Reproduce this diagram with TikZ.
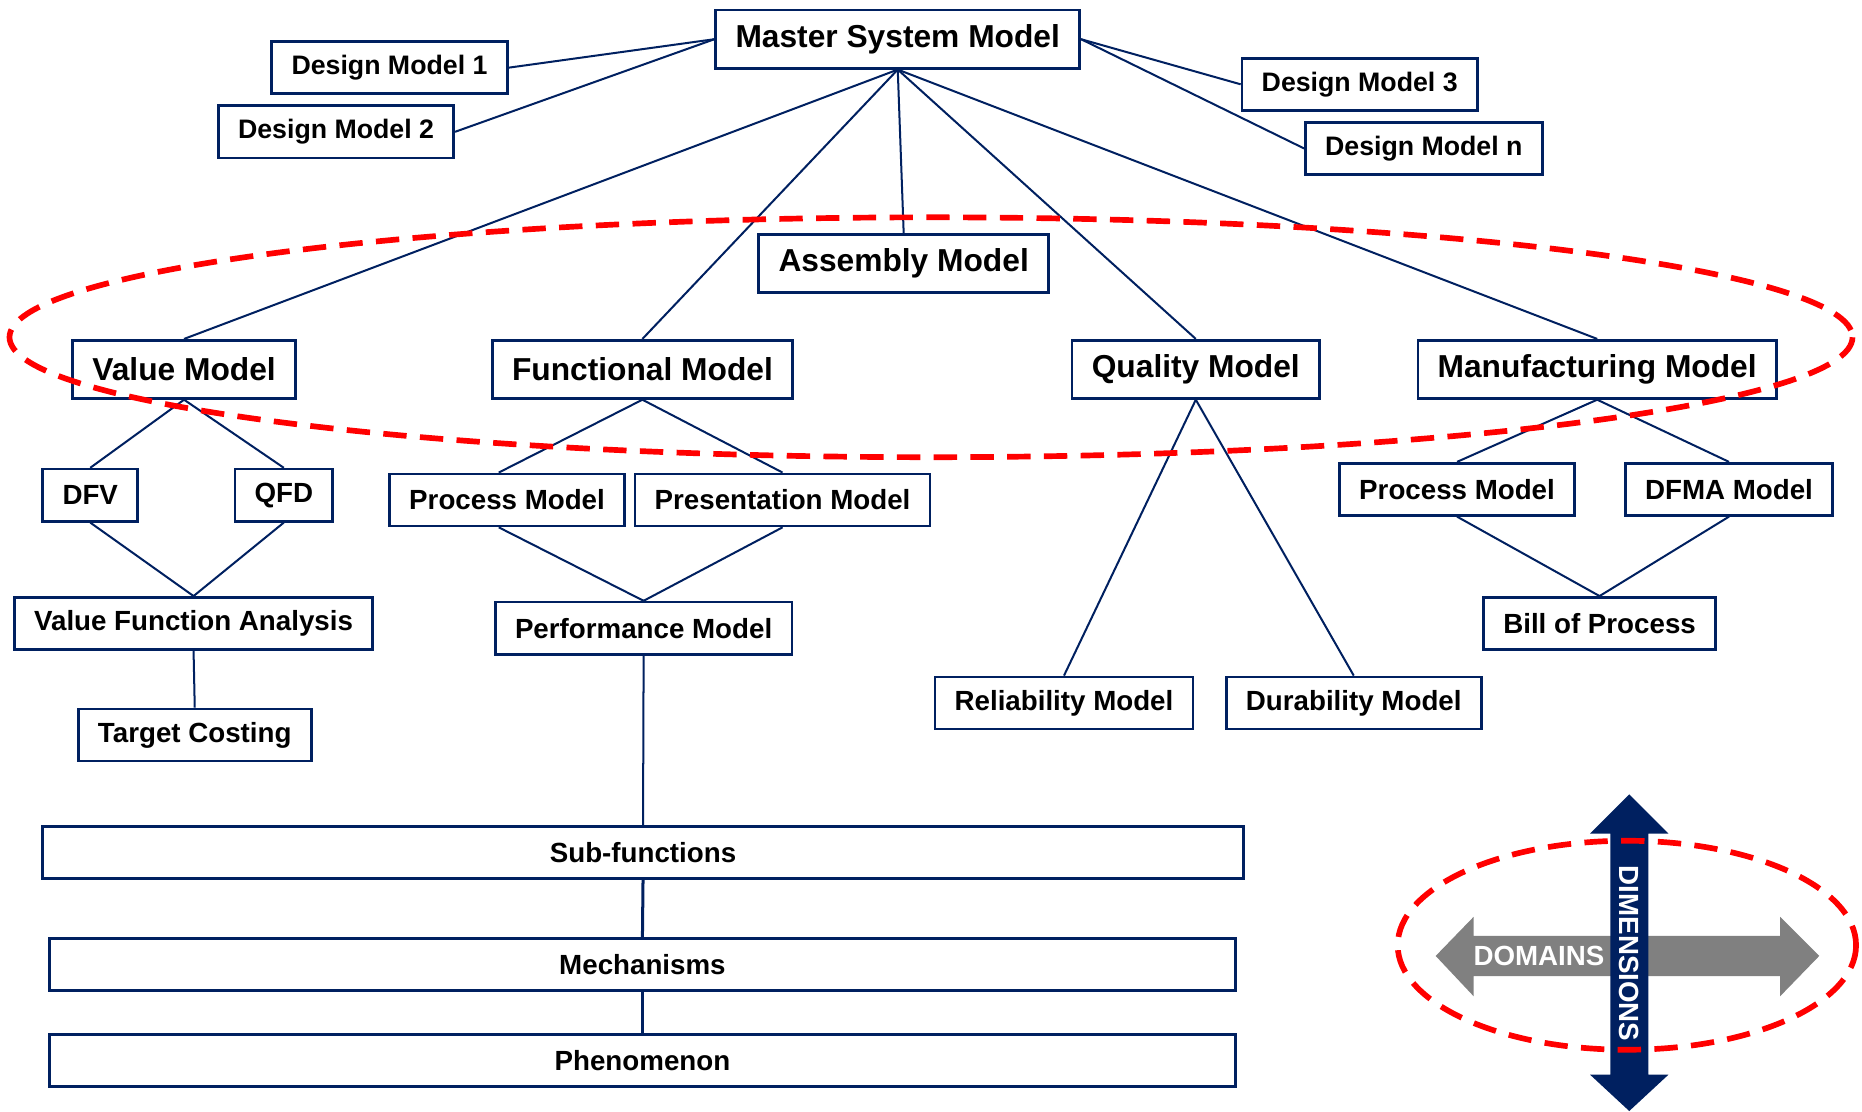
\documentclass[tikz,border=0pt]{standalone}
\usepackage{fontspec}
\setmainfont{Liberation Sans}
\definecolor{navy}{HTML}{002060}
\definecolor{arrowgrey}{HTML}{808080}
\begin{document}
\begin{tikzpicture}[
        x=0.0125cm, y=-0.0125cm,
        basic/.style = {draw=navy, line width=0.8pt, fill=white, align=center, inner xsep=5.9pt, inner ysep=0pt},
        big/.style = {basic, minimum height=17.4pt, font=\fontsize{9.5}{11}\selectfont\bfseries},
        small/.style = {basic, minimum height=15.6pt, font=\fontsize{8.3}{10}\selectfont\bfseries},
        design/.style = {small, font=\fontsize{8}{10}\selectfont\bfseries},
        layer/.style = {small, inner xsep=0pt},
        link/.style = {draw=navy, line width=0.6pt},
        ring/.style = {draw=red, line width=1.7pt, dash pattern=on 7pt off 4pt},
        >=latex]
    \useasboundingbox (0,0) rectangle (1568,935.6);
    % top level
    \node[big] (master) at (756,33) {Master System Model};
    \node[design] (dm1) at (328,57) {Design Model 1};
    \node[design] (dm2) at (283,111) {Design Model 2};
    \node[design] (dm3) at (1145,71) {Design Model 3};
    \node[design] (dmn) at (1199,125) {Design Model n};
    % domain models
    \node[big] (assembly) at (761,222) {Assembly Model};
    \node[big] (value) at (155,311) {Value Model};
    \node[big] (functional) at (541,311) {Functional Model};
    \node[big] (quality) at (1007,311) {Quality Model};
    \node[big] (manufacturing) at (1345,311) {Manufacturing Model};
    % sub models
    \node[small] (dfv) at (76,417) {DFV};
    \node[small] (qfd) at (239,417) {QFD};
    \node[small] (vfa) at (163,525) {Value Function Analysis};
    \node[small] (target) at (164,619) {Target Costing};
    \node[small] (procA) at (427,421) {Process Model};
    \node[small] (present) at (659,421) {Presentation Model};
    \node[small] (perf) at (542,529) {Performance Model};
    \node[small] (reliability) at (896,592) {Reliability Model};
    \node[small] (durability) at (1140,592) {Durability Model};
    \node[small] (procB) at (1227,412) {Process Model};
    \node[small] (dfma) at (1456,412) {DFMA Model};
    \node[small] (bop) at (1347,525) {Bill of Process};
    % layers
    \node[layer, minimum width=1011*0.3557pt] (subfn) at (541.5,718) {Sub-functions};
    \node[layer, minimum width=998*0.3557pt] (mech) at (541,812) {Mechanisms};
    \node[layer, minimum width=998*0.3557pt] (phen) at (541,893) {Phenomenon};

    \draw[link] (dm1.east) -- (master.west);
    \draw[link] (dm2.east) -- (master.west);
    \draw[link] (master.east) -- (dm3.west);
    \draw[link] (master.east) -- (dmn.west);
    \foreach \m in {value, functional, assembly, quality, manufacturing}
        \draw[link] (master.south) -- (\m.north);
    \draw[link] (value.south) -- (dfv.north);
    \draw[link] (value.south) -- (qfd.north);
    \draw[link] (dfv.south) -- (vfa.north);
    \draw[link] (qfd.south) -- (vfa.north);
    \draw[link] (vfa.south) -- (target.north);
    \draw[link] (functional.south) -- ([xshift=-7*0.3557pt]procA.north);
    \draw[link] (functional.south) -- (present.north);
    \draw[link] ([xshift=-7*0.3557pt]procA.south) -- (perf.north);
    \draw[link] (present.south) -- (perf.north);
    \draw[link] (perf.south) -- (subfn.north);
    \draw[link, line width=0.9pt] (subfn.south) -- (mech.north);
    \draw[link, line width=0.9pt] (mech.south) -- (phen.north);
    \draw[link] (quality.south) -- (reliability.north);
    \draw[link] (quality.south) -- (durability.north);
    \draw[link] (manufacturing.south) -- (procB.north);
    \draw[link] (manufacturing.south) -- (dfma.north);
    \draw[link] (procB.south) -- (bop.north);
    \draw[link] (dfma.south) -- (bop.north);

    % domains / dimensions legend
    \fill[arrowgrey] (1209,805) -- (1241,772) -- (1241,788) -- (1499,788) -- (1499,772)
        -- (1532,805) -- (1499,839) -- (1499,822) -- (1241,822) -- (1241,839) -- cycle;
    \fill[navy] (1372,669) -- (1405,702) -- (1388,702) -- (1388,905) -- (1405,905)
        -- (1372,935.6) -- (1339,905) -- (1356,905) -- (1356,702) -- (1339,702) -- cycle;
    \node[text=white, font=\fontsize{8.3}{10}\selectfont\bfseries, inner sep=0pt] (domains) at (1296,805) {DOMAINS};
    \node[text=white, font=\fontsize{8.3}{10}\selectfont\bfseries, inner sep=0pt, rotate=-90] (dimensions) at (1372,803) {DIMENSIONS};

    \draw[ring] (784,284) ellipse [x radius=776, y radius=101];
    \draw[ring] (1370,796) ellipse [x radius=193, y radius=88];
\end{tikzpicture}
\end{document}
